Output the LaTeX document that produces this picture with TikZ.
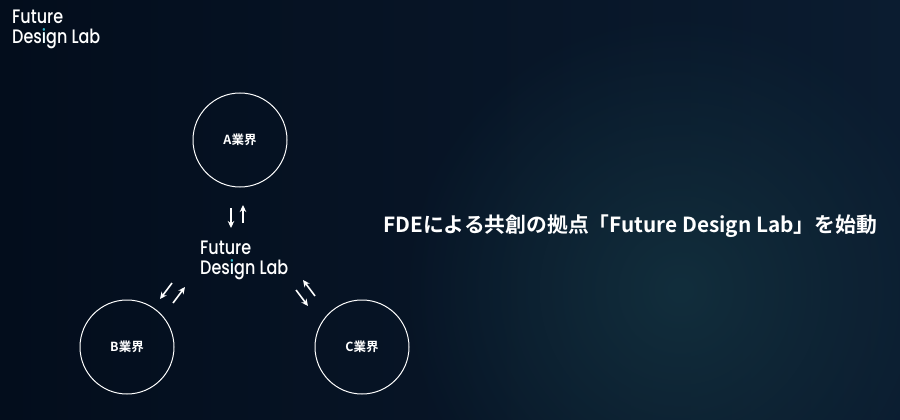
\documentclass[tikz,border=0pt]{standalone}
\usepackage{fontspec}
\usetikzlibrary{arrows.meta,fadings}
\newfontfamily\logofont{Poppins Medium}[FakeStretch=0.82]
\newfontfamily\jpfont{Noto Sans CJK JP}[BoldFont={* Bold}]
\definecolor{bgleft}{RGB}{3,13,28}
\definecolor{bgright}{RGB}{11,28,48}
\definecolor{glow}{RGB}{18,46,60}
\definecolor{dotteal}{RGB}{40,180,200}
\newcommand{\teali}{\hbox{\rlap{\color{dotteal}i}\color{white}ı}}
\tikzfading[name=softglow, inner color=transparent!0, outer color=transparent!100]
\tikzset{
  ring/.style={circle, draw=white, line width=1pt, minimum size=94pt, inner sep=0pt,
    text=white, font=\jpfont\bfseries\fontsize{12.5}{14}\selectfont},
  logo/.style={text=white, align=left, inner sep=0pt,
    font=\logofont\fontsize{19.5}{20}\selectfont},
  flow/.style={white, line width=1.6pt, -{Stealth[length=7pt,width=6.5pt]}},
}
\begin{document}
\begin{tikzpicture}[x=1pt,y=-1pt]
\shade[left color=bgleft, right color=bgright] (0,0) rectangle (900,420);
\begin{scope}
\clip (0,0) rectangle (900,420);
\fill[glow, path fading=softglow, fit fading=true] (680,290) circle (280);
\end{scope}
\useasboundingbox (0,0) rectangle (900,420);
% logo top left
\node[logo, anchor=north west] (toplogo) at (12,10) {Future\\Des\teali gn Lab};
% circles
\node[ring] (A) at (240,140) {A業界};
\node[ring] (B) at (127,347) {B業界};
\node[ring] (C) at (362,347) {C業界};
% center
\node[logo, anchor=north west] (fdl) at (200,241) {Future\\Des\teali gn Lab};
% title
\node[anchor=west, text=white, inner sep=0pt, font=\jpfont\bfseries\fontsize{20.8}{24}\selectfont] (title) at (383,226) {FDEによる共創の拠点「Future Design Lab」を始動};
% arrows
\coordinate (a1s) at (231,208); \coordinate (a1e) at (231,228);
\coordinate (a2s) at (243,223); \coordinate (a2e) at (243,205);
\coordinate (b1s) at (172,283); \coordinate (b1e) at (160,299);
\coordinate (b2s) at (173,303); \coordinate (b2e) at (185,287);
\coordinate (c1s) at (315,296); \coordinate (c1e) at (303,280);
\coordinate (c2s) at (296,290); \coordinate (c2e) at (308,306);
\draw[flow] (a1s) -- (a1e);
\draw[flow] (a2s) -- (a2e);
\draw[flow] (b1s) -- (b1e);
\draw[flow] (b2s) -- (b2e);
\draw[flow] (c1s) -- (c1e);
\draw[flow] (c2s) -- (c2e);
\end{tikzpicture}
\end{document}
